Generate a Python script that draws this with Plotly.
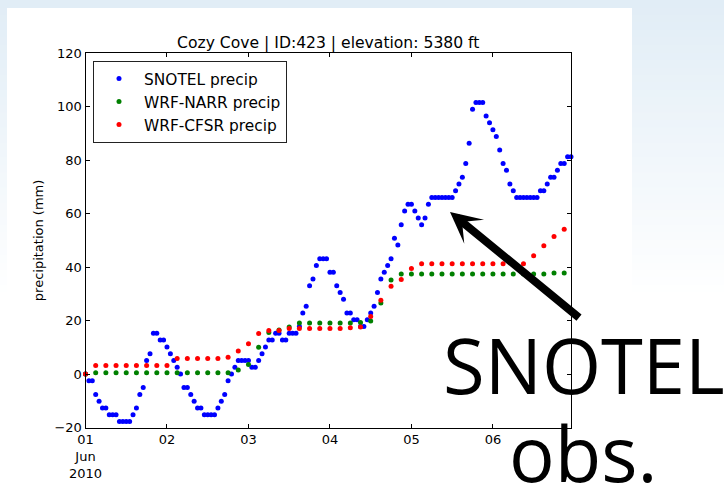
import pandas as pd
import plotly.graph_objects as go

# ---- data -------------------------------------------------------------
station_title = "Cozy Cove | ID:423 | elevation: 5380 ft"

# hourly SNOTEL accumulated precipitation (mm), Jun 1 00:00 -> Jun 6 23:00
snotel_times = pd.date_range("2010-06-01 00:00", periods=144, freq="h")
snotel_precip = [
    0.0, -2.54, -2.54, -7.62, -10.16, -12.7, -12.7, -15.24, -15.24, -15.24,
    -17.78, -17.78, -17.78, -17.78, -15.24, -12.7, -7.62, -5.08, 5.08, 7.62,
    15.24, 15.24, 12.7, 12.7, 10.16, 7.62, 5.08, 2.54, 0.0, -5.08,
    -5.08, -7.62, -10.16, -12.7, -12.7, -15.24, -15.24, -15.24, -15.24, -12.7,
    -10.16, -7.62, -2.54, 0.0, 2.54, 5.08, 5.08, 5.08, 5.08, 2.54,
    2.54, 5.08, 7.62, 10.16, 12.7, 12.7, 15.24, 15.24, 12.7, 12.7,
    15.24, 15.24, 15.24, 17.78, 22.86, 25.4, 33.02, 35.56, 40.64, 43.18,
    43.18, 43.18, 38.1, 38.1, 33.02, 30.48, 27.94, 22.86, 22.86, 20.32,
    20.32, 17.78, 17.78, 20.32, 22.86, 25.4, 30.48, 35.56, 38.1, 40.64,
    43.18, 50.8, 48.26, 55.88, 60.96, 63.5, 63.5, 60.96, 58.42, 55.88,
    58.42, 63.5, 66.04, 66.04, 66.04, 66.04, 66.04, 66.04, 66.04, 68.58,
    71.12, 73.66, 78.74, 86.36, 99.06, 101.6, 101.6, 101.6, 96.52, 93.98,
    91.44, 88.9, 83.82, 78.74, 76.2, 71.12, 68.58, 66.04, 66.04, 66.04,
    66.04, 66.04, 66.04, 66.04, 68.58, 68.58, 71.12, 73.66, 73.66, 76.2,
    78.74, 78.74, 81.28, 81.28,
]

# 3-hourly WRF output (mm)
wrf_times = pd.date_range("2010-06-01 00:00", periods=48, freq="3h")
narr_precip = [
    0.0, 0.5, 0.5, 0.5, 0.5, 0.5, 0.5, 0.5, 0.5, 0.5,
    0.5, 0.5, 0.5, 0.5, 0.5, 1.5, 3.6, 10.0, 15.5, 16.5,
    17.6, 19.1, 19.1, 19.1, 19.1, 19.1, 19.1, 19.3, 19.8, 26.6,
    35.2, 37.4, 37.4, 37.4, 37.4, 37.4, 37.4, 37.4, 37.4, 37.4,
    37.4, 37.4, 37.4, 37.4, 37.4, 37.4, 37.8, 37.8,
]
cfsr_precip = [
    0.0, 3.2, 3.2, 3.2, 3.2, 3.2, 3.2, 3.2, 3.2, 5.8,
    5.8, 5.8, 5.8, 5.8, 6.3, 8.6, 11.3, 15.2, 16.3, 16.3,
    17.0, 17.0, 17.0, 17.0, 17.0, 17.0, 17.3, 17.6, 21.5, 27.6,
    32.8, 35.4, 39.5, 41.3, 41.3, 41.3, 41.3, 41.3, 41.3, 41.3,
    41.3, 41.3, 41.3, 41.3, 44.3, 48.0, 51.5, 54.2,
]

series_names = ["SNOTEL precip", "WRF-NARR precip", "WRF-CFSR precip"]
series_colors = ["#0000ff", "#008000", "#ff0000"]

tick_days = pd.date_range("2010-06-01", periods=6, freq="D")
tick_text = ["01<br>Jun<br>2010", "02", "03", "04", "05", "06"]
y_ticks = [-20, 0, 20, 40, 60, 80, 100, 120]

# ---- layout helpers (pixel -> paper) -----------------------------------
W, H = 724, 489
def px(x):
    return x / W

def py(y):
    return 1 - y / H

PLOT_L, PLOT_R, PLOT_T, PLOT_B = 85.5, 571.0, 53.3, 427.5
FONT = "DejaVu Sans"

fig = go.Figure()
for times, vals, name, color in zip(
    [snotel_times, wrf_times, wrf_times],
    [snotel_precip, narr_precip, cfsr_precip],
    series_names,
    series_colors,
):
    fig.add_trace(go.Scatter(
        x=times, y=vals, name=name, mode="markers",
        marker=dict(color=color, size=5, line=dict(width=0)),
        cliponaxis=False,
    ))

# slide background: pale blue fading to white, with the white figure card on top
shapes = []
n_bands = 40
top_rgb = (225, 237, 246)
for i in range(n_bands):
    f = i / (n_bands - 1)
    c = tuple(round(t + (255 - t) * f) for t in top_rgb)
    y0 = 300 * i / n_bands
    y1 = 300 * (i + 1) / n_bands + 1
    shapes.append(dict(
        type="rect", xref="paper", yref="paper", layer="below",
        x0=0, x1=1, y0=py(y1), y1=py(y0),
        fillcolor="rgb(%d,%d,%d)" % c, line=dict(width=0),
    ))
shapes.append(dict(
    type="rect", xref="paper", yref="paper", layer="below",
    x0=px(7), x1=px(632), y0=0, y1=py(8),
    fillcolor="white", line=dict(width=0),
))

axis_common = dict(
    showline=True, linecolor="black", linewidth=1, mirror="allticks",
    ticks="inside", ticklen=4, tickwidth=1, tickcolor="black",
    showgrid=False, zeroline=False, automargin=False,
    tickfont=dict(family=FONT, size=13, color="black"),
)

fig.update_layout(
    width=W, height=H, autosize=False,
    margin=dict(l=0, r=0, t=0, b=0, pad=0),
    paper_bgcolor="white", plot_bgcolor="white",
    shapes=shapes,
    showlegend=True,
    title=dict(
        text=station_title, x=(PLOT_L + PLOT_R) / 2 / W, y=py(43),
        xref="paper", yref="paper", xanchor="center", yanchor="middle",
        font=dict(family=FONT, size=15.6, color="black"),
        automargin=False,
    ),
    xaxis=dict(
        axis_common, type="date", domain=[px(PLOT_L), px(PLOT_R)],
        range=["2010-06-01 00:00", "2010-06-06 23:00"],
        tickmode="array", tickvals=list(tick_days), ticktext=tick_text,
    ),
    yaxis=dict(
        axis_common, domain=[py(PLOT_B), py(PLOT_T)], range=[-20, 120],
        tickmode="array", tickvals=y_ticks,
        title=dict(text="precipitation (mm)", standoff=7,
                   font=dict(family=FONT, size=13, color="black")),
    ),
    legend=dict(
        x=px(93), y=py(61), xanchor="left", yanchor="top",
        bgcolor="white", bordercolor="#222222", borderwidth=1,
        font=dict(family=FONT, size=15.4, color="black"),
        itemwidth=40,
    ),
)

# slide call-out: arrow and caption
fig.add_annotation(
    x=px(450), y=py(212), xref="paper", yref="paper",
    ax=132, ay=108, text=" ", showarrow=True,
    arrowhead=3, arrowsize=0.65, arrowwidth=8, arrowcolor="black",
    standoff=0,
)
fig.add_annotation(
    x=px(583.5), y=py(364), xref="paper", yref="paper",
    text="SNOTEL", showarrow=False, xanchor="center", yanchor="middle",
    font=dict(family="Open Sans", size=76, color="black"),
)
fig.add_annotation(
    x=px(582.5), y=py(452), xref="paper", yref="paper",
    text="obs.", showarrow=False, xanchor="center", yanchor="middle",
    font=dict(family="Open Sans", size=76, color="black"),
)

fig.write_html("out.html")
